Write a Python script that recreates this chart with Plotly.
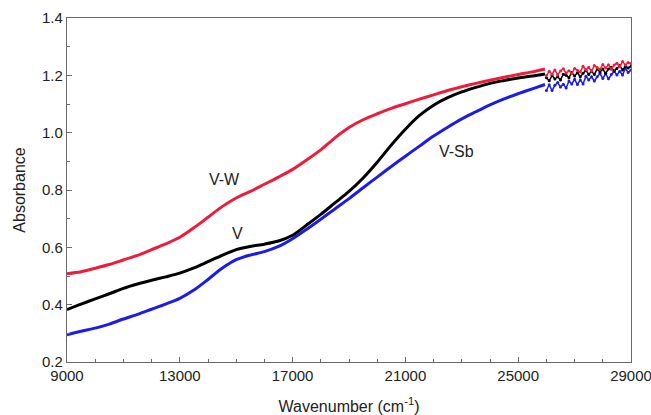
import plotly.graph_objects as go

# Smooth part of the spectra (wavenumber, cm-1)
wn_smooth = [9000, 9500, 10000, 10500, 11000, 11500, 12000, 12500, 13000, 13500,
             14000, 14500, 15000, 15500, 16000, 16500, 17000, 17500, 18000, 18500,
             19000, 19500, 20000, 20500, 21000, 21500, 22000, 22500, 23000, 23500,
             24000, 24500, 25000, 25500, 25950]

vw_smooth = [0.508, 0.515, 0.527, 0.540, 0.556, 0.572, 0.592, 0.612, 0.635, 0.668,
             0.705, 0.742, 0.772, 0.795, 0.820, 0.845, 0.872, 0.905, 0.940, 0.982,
             1.018, 1.045, 1.066, 1.085, 1.101, 1.117, 1.132, 1.147, 1.160, 1.172,
             1.183, 1.193, 1.203, 1.212, 1.222]

v_smooth = [0.383, 0.402, 0.420, 0.438, 0.457, 0.472, 0.485, 0.497, 0.510, 0.528,
            0.550, 0.572, 0.592, 0.603, 0.611, 0.622, 0.642, 0.678, 0.715, 0.755,
            0.795, 0.842, 0.897, 0.957, 1.012, 1.060, 1.096, 1.122, 1.142, 1.158,
            1.172, 1.182, 1.191, 1.198, 1.205]

vsb_smooth = [0.295, 0.307, 0.318, 0.332, 0.350, 0.366, 0.384, 0.402, 0.422, 0.451,
              0.488, 0.527, 0.557, 0.573, 0.585, 0.603, 0.630, 0.663, 0.698, 0.734,
              0.770, 0.808, 0.845, 0.882, 0.918, 0.953, 0.988, 1.019, 1.048, 1.073,
              1.097, 1.118, 1.136, 1.153, 1.168]

wn_noisy = [26000, 26100, 26200, 26300, 26400, 26500, 26600, 26700, 26800, 26900,
            27000, 27100, 27200, 27300, 27400, 27500, 27600, 27700, 27800, 27900,
            28000, 28100, 28200, 28300, 28400, 28500, 28600, 28700, 28800, 28900, 29000]

vw_noisy = [1.199, 1.214, 1.204, 1.219, 1.202, 1.215, 1.223, 1.208, 1.216, 1.206,
            1.224, 1.218, 1.212, 1.232, 1.219, 1.228, 1.215, 1.234, 1.227, 1.221,
            1.238, 1.226, 1.237, 1.221, 1.236, 1.242, 1.230, 1.248, 1.236, 1.245, 1.240]
v_noisy = [1.192, 1.181, 1.199, 1.187, 1.195, 1.184, 1.204, 1.200, 1.192, 1.210,
           1.198, 1.209, 1.195, 1.207, 1.218, 1.203, 1.214, 1.203, 1.222, 1.212,
           1.222, 1.207, 1.222, 1.228, 1.215, 1.224, 1.234, 1.219, 1.231, 1.226, 1.232]
vsb_noisy = [1.147, 1.167, 1.147, 1.165, 1.175, 1.159, 1.169, 1.156, 1.180, 1.170,
             1.186, 1.168, 1.184, 1.170, 1.197, 1.184, 1.195, 1.180, 1.195, 1.206,
             1.189, 1.206, 1.188, 1.203, 1.214, 1.201, 1.214, 1.201, 1.224, 1.210, 1.219]

series = [
    ("V-Sb", vsb_smooth, vsb_noisy, "#1c1ce6"),
    ("V", v_smooth, v_noisy, "#000000"),
    ("V-W", vw_smooth, vw_noisy, "#ee1c3a"),
]

labels = [("V-W", 14600, 0.838), ("V", 15060, 0.649), ("V-Sb", 22820, 0.934)]

FONT = "Liberation Sans, Arial, sans-serif"

fig = go.Figure()
for name, ys, yn, col in series:
    fig.add_trace(go.Scatter(x=wn_smooth, y=ys, mode="lines", name=name,
                             line=dict(color=col, width=3, shape="spline", smoothing=0.8),
                             showlegend=False))
    fig.add_trace(go.Scatter(x=wn_noisy, y=yn, mode="lines+markers", name=name,
                             line=dict(color=col, width=1.5),
                             marker=dict(color=col, size=3),
                             showlegend=False))

for txt, x, y in labels:
    fig.add_annotation(x=x, y=y, text=txt, showarrow=False,
                       font=dict(size=16, color="#222", family=FONT))

axis_common = dict(showline=True, linecolor="#6a6a6a", linewidth=1.3, mirror=True,
                   ticks="inside", ticklen=5, tickcolor="#6a6a6a", showgrid=False,
                   zeroline=False, automargin=False,
                   tickfont=dict(size=15, color="#222", family=FONT))

fig.update_xaxes(range=[9000, 29000], tick0=9000, dtick=4000, tickformat="d",
                 ticklabeloverflow="allow",
                 minor=dict(dtick=1000, ticks="inside", ticklen=3, tickcolor="#6a6a6a"),
                 title=dict(text="Wavenumber (cm<sup>-1</sup>)", standoff=19,
                            font=dict(size=16, color="#222", family=FONT)),
                 **axis_common)
fig.update_yaxes(range=[0.2, 1.4], tick0=0.2, dtick=0.2, tickformat=".1f",
                 minor=dict(dtick=0.1, ticks="inside", ticklen=3, tickcolor="#6a6a6a"),
                 title=dict(text="Absorbance", standoff=12,
                            font=dict(size=16, color="#222", family=FONT)),
                 **axis_common)

fig.update_layout(width=651, height=415, margin=dict(l=67, r=20, t=18, b=53),
                  plot_bgcolor="white", paper_bgcolor="white",
                  font=dict(family=FONT))

fig.write_html("out.html")
